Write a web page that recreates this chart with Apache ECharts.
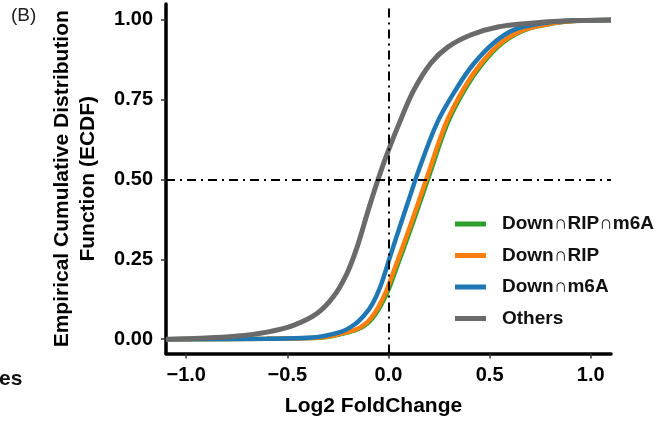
<!DOCTYPE html>
<html>
<head>
<meta charset="utf-8">
<script src="https://cdn.jsdelivr.net/npm/echarts@6/dist/echarts.min.js"></script>
<style>
  html, body { margin: 0; padding: 0; background: #fff; }
  #chart { width: 659px; height: 425px; }
</style>
</head>
<body>
<div id="chart"></div>
<script>
// ECDF curves (Log2 FoldChange, cumulative fraction)
var seriesNames = ['Down\u2229RIP\u2229m6A', 'Down\u2229RIP', 'Down\u2229m6A', 'Others']
var seriesColors = ['#2ca02c', '#ff7f0e', '#1f77b4', '#6a6a6a']

var tripleX = [-1.1, -0.6, -0.34, -0.162, -0.102, -0.052, 0.0, 0.035, 0.103, 0.152, 0.201, 0.291, 0.38, 0.463, 0.563, 0.676, 0.824, 0.95, 1.1]
var tripleY = [0, 0.001, 0.004, 0.028, 0.05, 0.09, 0.155, 0.215, 0.333, 0.422, 0.512, 0.675, 0.785, 0.862, 0.928, 0.969, 0.99, 0.998, 1]

var ripX = [-1.1, -0.6, -0.35, -0.17, -0.11, -0.06, -0.008, 0.027, 0.095, 0.144, 0.193, 0.283, 0.372, 0.455, 0.555, 0.668, 0.816, 0.95, 1.1]
var ripY = [0, 0.001, 0.004, 0.028, 0.05, 0.09, 0.155, 0.215, 0.333, 0.422, 0.512, 0.675, 0.785, 0.862, 0.928, 0.969, 0.99, 0.998, 1]

var m6aX = [-1.1, -0.6, -0.39, -0.24, -0.17, -0.12, -0.08, -0.04, 0.011, 0.06, 0.11, 0.144, 0.242, 0.341, 0.42, 0.52, 0.62, 0.767, 0.9, 1.1]
var m6aY = [0, 0.001, 0.004, 0.022, 0.045, 0.075, 0.11, 0.165, 0.265, 0.36, 0.455, 0.52, 0.68, 0.79, 0.862, 0.928, 0.969, 0.99, 0.998, 1]

var othersX = [-1.1, -0.93, -0.76, -0.6, -0.467, -0.354, -0.27, -0.206, -0.157, -0.102, -0.053, 0, 0.06, 0.125, 0.21, 0.293, 0.406, 0.54, 0.703, 0.866, 1.1]
var othersY = [0, 0.003, 0.009, 0.022, 0.044, 0.08, 0.135, 0.205, 0.285, 0.4, 0.498, 0.592, 0.687, 0.78, 0.865, 0.915, 0.953, 0.978, 0.99, 0.997, 1]

var xTicks = [-1.0, -0.5, 0.0, 0.5, 1.0]
var yTicks = [0, 0.25, 0.5, 0.75, 1.0]

function pairs(xs, ys) {
    return xs.map(function (x, i) { return [x, ys[i]] })
}

var curves = [pairs(tripleX, tripleY), pairs(ripX, ripY), pairs(m6aX, m6aY), pairs(othersX, othersY)]

var font = 'Liberation Sans, Arial, sans-serif'
var chart = echarts.init(document.getElementById('chart'), null, {renderer: 'canvas'})

var series = curves.map(function (data, i) {
    return {
        name: seriesNames[i],
        type: 'line',
        data: data,
        showSymbol: false,
        smooth: 0.35,
        color: seriesColors[i],
        lineStyle: {width: i == 3 ? 5 : 4.5, color: seriesColors[i]}
    }
})

// dash-dot reference lines at x = 0 and y = 0.5
series[3].markLine = {
    silent: true,
    symbol: 'none',
    label: {show: false},
    lineStyle: {color: '#000', width: 2, type: [9, 5, 2, 5]},
    data: [{xAxis: 0}, {yAxis: 0.5}]
}

var option = {
    animation: false,
    textStyle: {fontFamily: font},
    grid: {left: 166, right: 48, top: 4, bottom: 71.5},
    legend: {
        orient: 'vertical',
        left: 450,
        top: 209,
        icon: 'rect',
        itemWidth: 31,
        itemHeight: 5,
        itemGap: 11.5,
        data: seriesNames,
        textStyle: {fontFamily: font, fontSize: 19, fontWeight: 'bold', color: '#111', lineHeight: 20, padding: [0, 0, 0, 11]}
    },
    graphic: [
        {type: 'text', left: 11, top: 6, style: {text: '(B)', font: '19px ' + font, fill: '#222'}},
        {type: 'text', left: -1, top: 369, style: {text: 'es', font: 'bold 21px ' + font, fill: '#111'}}
    ],
    xAxis: {
        type: 'value',
        min: -1.1,
        max: 1.1,
        name: 'Log2 FoldChange',
        nameLocation: 'middle',
        nameGap: 42,
        nameTextStyle: {fontFamily: font, fontSize: 21, fontWeight: 'bold', color: '#000', padding: [0, 30, 0, 0]},
        axisLine: {onZero: false, lineStyle: {color: '#000', width: 3.5}},
        axisTick: {show: true, customValues: xTicks, length: 5, lineStyle: {color: '#333', width: 1.5}},
        axisLabel: {
            customValues: xTicks,
            margin: 12,
            fontFamily: font, fontSize: 20, fontWeight: 'bold', color: '#000',
            formatter: function (v) { return v.toFixed(1).replace('-', '\u2212') }
        },
        splitLine: {show: false}
    },
    yAxis: {
        type: 'value',
        min: -0.045,
        max: 1.05,
        name: 'Empirical Cumulative Distribution\nFunction (ECDF)',
        nameLocation: 'middle',
        nameRotate: 90,
        nameGap: 65,
        nameTextStyle: {fontFamily: font, fontSize: 21, fontWeight: 'bold', color: '#000', lineHeight: 26},
        axisLine: {show: true, onZero: false, lineStyle: {color: '#000', width: 3.5}},
        axisTick: {show: true, customValues: yTicks, length: 5, lineStyle: {color: '#333', width: 1.5}},
        axisLabel: {
            customValues: yTicks,
            margin: 13,
            fontFamily: font, fontSize: 20, fontWeight: 'bold', color: '#000',
            formatter: function (v) { return v.toFixed(2) }
        },
        splitLine: {show: false}
    },
    series: series
}

chart.setOption(option)
</script>
</body>
</html>
